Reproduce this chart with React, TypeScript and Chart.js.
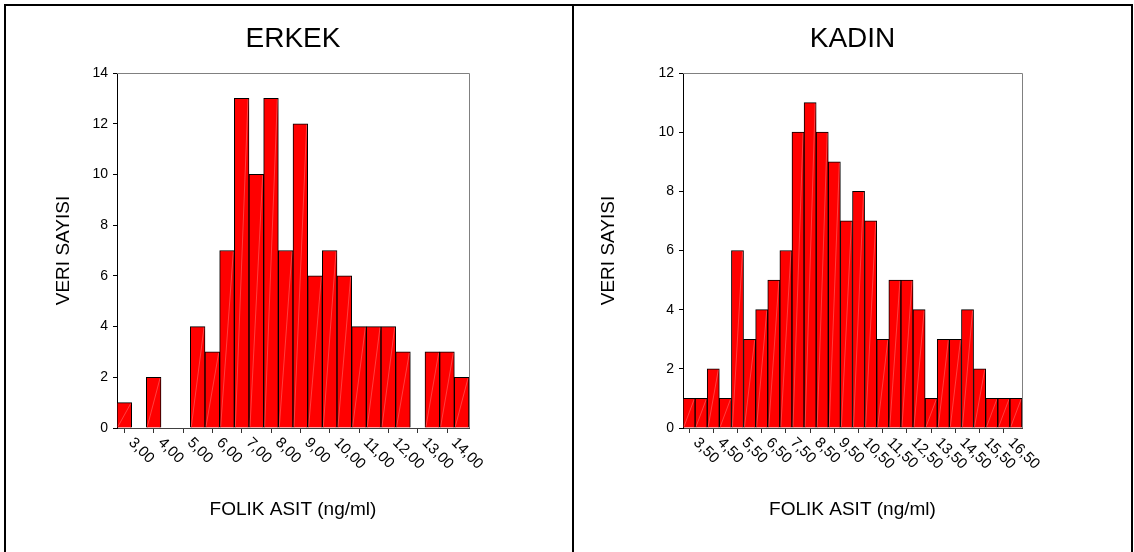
import React, { useEffect, useRef } from 'react';
import { Chart, registerables } from 'chart.js';

Chart.register(...registerables);

const FONT = '"Liberation Sans", Arial, Helvetica, sans-serif';
Chart.defaults.font.family = FONT;

// ---------- DATA ----------
const erkekLabels = [
  '3,00', '3,50', '4,00', '4,50', '5,00', '5,50', '6,00', '6,50', '7,00', '7,50', '8,00', '8,50',
  '9,00', '9,50', '10,00', '10,50', '11,00', '11,50', '12,00', '12,50', '13,00', '13,50', '14,00', '14,50',
];
const erkekCounts = [1, 0, 2, 0, 0, 4, 3, 7, 13, 10, 13, 7, 12, 6, 7, 6, 4, 4, 4, 3, 0, 3, 3, 2];

const kadinLabels = [
  '3,50', '4,00', '4,50', '5,00', '5,50', '6,00', '6,50', '7,00', '7,50', '8,00', '8,50', '9,00',
  '9,50', '10,00', '10,50', '11,00', '11,50', '12,00', '12,50', '13,00', '13,50', '14,00', '14,50',
  '15,00', '15,50', '16,00', '16,50', '17,00',
];
const kadinCounts = [1, 1, 2, 1, 6, 3, 4, 5, 6, 10, 11, 10, 9, 7, 8, 7, 3, 5, 5, 4, 1, 3, 3, 4, 2, 1, 1, 1];

const yTitle = 'VERI SAYISI';
const xTitle = 'FOLIK ASIT (ng/ml)';

// ---------- PLUGIN ----------
const overlayPlugin = {
  id: 'overlay',
  afterDatasetsDraw(chart: any) {
    const ctx = chart.ctx;
    const meta = chart.getDatasetMeta(0);
    ctx.save();
    ctx.strokeStyle = 'rgba(255,180,180,0.35)';
    ctx.lineWidth = 1;
    ctx.beginPath();
    meta.data.forEach((bar: any) => {
      const p = bar.getProps(['x', 'y', 'base', 'width'], true);
      if (p.base - p.y < 2) return;
      ctx.moveTo(p.x - p.width / 2 + 1, p.base - 1);
      ctx.lineTo(p.x + p.width / 2 - 1, p.y + 1);
    });
    ctx.stroke();
    ctx.restore();
  },
  afterDraw(chart: any, _args: any, opts: any) {
    const ctx = chart.ctx;
    const { left, right, top, bottom } = chart.chartArea;
    ctx.save();
    // frame (top and right)
    ctx.strokeStyle = '#808080';
    ctx.lineWidth = 1;
    ctx.beginPath();
    ctx.moveTo(left, top + 0.5);
    ctx.lineTo(right + 0.5, top + 0.5);
    ctx.lineTo(right + 0.5, bottom);
    ctx.stroke();
    // title
    ctx.fillStyle = '#000';
    ctx.font = `28px ${FONT}`;
    ctx.textAlign = 'center';
    ctx.textBaseline = 'middle';
    ctx.fillText(opts.title, (left + right) / 2, 39);
    // rotated x tick labels
    const xs = chart.scales.x;
    ctx.font = `15px ${FONT}`;
    ctx.textAlign = 'left';
    ctx.textBaseline = 'top';
    (opts.labels as string[]).forEach((l, i) => {
      if (i % 2 !== 0) return;
      const x = xs.getPixelForValue(i);
      ctx.save();
      ctx.translate(x + 12, bottom + 7);
      ctx.rotate(Math.PI / 4);
      ctx.fillText(l, 0, 0);
      ctx.restore();
    });
    ctx.restore();
  },
};

type HistProps = {
  labels: string[];
  counts: number[];
  title: string;
  yMax: number;
  left: number;
  width: number;
  axisWidth: number;
  padRight: number;
  yTitleOffset: number;
};

function Histogram(props: HistProps) {
  const ref = useRef<HTMLCanvasElement | null>(null);
  useEffect(() => {
    if (!ref.current) return;
    const chart = new Chart(ref.current, {
      type: 'bar',
      data: {
        labels: props.labels,
        datasets: [
          {
            data: props.counts,
            backgroundColor: '#ff0000',
            borderColor: '#000000',
            borderWidth: 1,
            barPercentage: 1,
            categoryPercentage: 1,
          },
        ],
      },
      plugins: [overlayPlugin],
      options: {
        responsive: false,
        animation: false,
        layout: { padding: { left: 0, top: 73, right: props.padRight, bottom: 0 } },
        plugins: {
          legend: { display: false },
          tooltip: { enabled: false },
          title: { display: false },
          overlay: { title: props.title, labels: props.labels },
        } as any,
        scales: {
          x: {
            type: 'category',
            offset: true,
            grid: {
              offset: false,
              drawOnChartArea: false,
              drawTicks: true,
              tickLength: 5,
              color: (c: any) => (c.index % 2 === 0 ? '#333333' : 'rgba(0,0,0,0)'),
            },
            border: { display: true, color: '#404040', width: 1 },
            ticks: { display: false, autoSkip: false },
            title: {
              display: true,
              text: xTitle,
              color: '#000',
              font: { size: 19, family: FONT },
              padding: { top: 0, bottom: 30.6 },
            },
            afterFit: (s: any) => {
              s.height = 124;
            },
          },
          y: {
            min: 0,
            max: props.yMax,
            grid: { drawOnChartArea: false, drawTicks: true, tickLength: 4, color: '#000' },
            border: { display: true, color: '#000', width: 1 },
            ticks: { stepSize: 2, color: '#000', padding: 5, font: { size: 14, family: FONT } },
            title: {
              display: true,
              text: yTitle,
              color: '#000',
              font: { size: 19, family: FONT },
              padding: { top: props.yTitleOffset, bottom: 0 },
            },
            afterFit: (s: any) => {
              s.width = props.axisWidth;
            },
          },
        },
      } as any,
    });
    return () => chart.destroy();
  }, []);
  return (
    <canvas
      ref={ref}
      width={props.width}
      height={552}
      style={{ position: 'absolute', left: props.left, top: 0, width: props.width, height: 552 }}
    />
  );
}

export default function App() {
  return (
    <div
      style={{
        position: 'fixed',
        left: 0,
        top: 0,
        width: 1134,
        height: 552,
        background: '#fff',
        overflow: 'hidden',
      }}
    >
      <Histogram
        labels={erkekLabels}
        counts={erkekCounts}
        title="ERKEK"
        yMax={14}
        left={0}
        width={572}
        axisWidth={117}
        padRight={572 - 469}
        yTitleOffset={52.6}
      />
      <Histogram
        labels={kadinLabels}
        counts={kadinCounts}
        title="KADIN"
        yMax={12}
        left={574}
        width={560}
        axisWidth={109}
        padRight={560 - 448}
        yTitleOffset={23}
      />
      <div
        style={{
          position: 'absolute',
          left: 4,
          top: 4,
          width: 1129,
          height: 600,
          boxSizing: 'border-box',
          border: '2px solid #000',
          pointerEvents: 'none',
        }}
      />
      <div
        style={{
          position: 'absolute',
          left: 572,
          top: 4,
          width: 2,
          height: 600,
          background: '#000',
          pointerEvents: 'none',
        }}
      />
    </div>
  );
}
